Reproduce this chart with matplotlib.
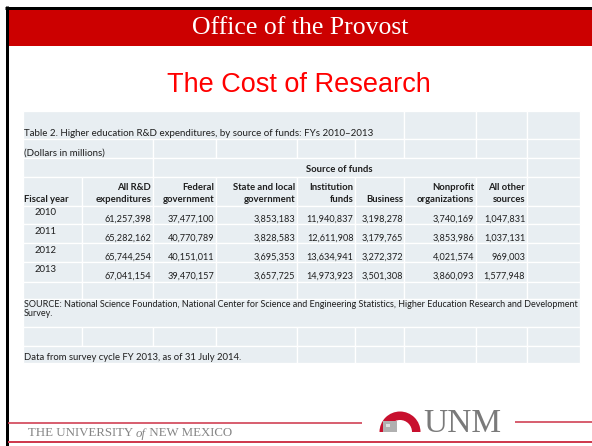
import matplotlib
matplotlib.use("Agg")
import matplotlib.pyplot as plt
from matplotlib.patches import Rectangle, Wedge

# ---------------- data ----------------
slide_header = "Office of the Provost"
slide_title = "The Cost of Research"
table_caption = "Table 2. Higher education R&D expenditures, by source of funds: FYs 2010\u20132013"
units_note = "(Dollars in millions)"
group_label = "Source of funds"
col_headers = [("", "Fiscal year"), ("All R&D", "expenditures"), ("Federal", "government"),
               ("State and local", "government"), ("Institution", "funds"), ("", "Business"),
               ("Nonprofit", "organizations"), ("All other", "sources")]
years = ["2010", "2011", "2012", "2013"]
all_rd = [61257398, 65282162, 65744254, 67041154]
federal = [37477100, 40770789, 40151011, 39470157]
state_local = [3853183, 3828583, 3695353, 3657725]
institution = [11940837, 12611908, 13634941, 14973923]
business = [3198278, 3179765, 3272372, 3501308]
nonprofit = [3740169, 3853986, 4021574, 3860093]
other_sources = [1047831, 1037131, 969003, 1577948]
source_line1 = ("SOURCE: National Science Foundation, National Center for Science and Engineering "
                "Statistics, Higher Education Research and Development")
source_line2 = "Survey."
data_note = "Data from survey cycle FY 2013, as of 31 July 2014."
footer_text_a = "THE UNIVERSITY "
footer_text_b = "of"
footer_text_c = " NEW MEXICO"
logo_text = "UNM"

# ---------------- layout ----------------
W, H = 592, 446
fig = plt.figure(figsize=(W / 100, H / 100), dpi=100)
ax = fig.add_axes([0, 0, 1, 1])
ax.set_xlim(0, W)
ax.set_ylim(H, 0)
ax.axis("off")

PX = 0.72  # points per pixel
RED = "#CC0000"
TABLE_BG = "#E8EEF2"
TXT = "#1E1E1E"
FONT = "Lato"

# frame + header band
ax.add_patch(Rectangle((8, 9), W - 8, 36.5, facecolor=RED, edgecolor="none"))
ax.plot([6.5, 6.5], [6, H], color="black", lw=3 * PX, solid_capstyle="butt")
ax.plot([5, W], [7.5, 7.5], color="black", lw=3 * PX, solid_capstyle="butt")
ax.text(300, 28, slide_header, color="white", fontsize=18.5, family="Liberation Serif",
        ha="center", va="center")
ax.text(299, 85, slide_title, color="#FF0000", fontsize=19.5, family="Liberation Sans",
        ha="center", va="center")

# table grid
xe = [22.7, 81.7, 152.7, 216, 297, 355, 404.3, 475.7, 526.7, 580]
ye = [111, 139.3, 158.3, 177.3, 205.7, 224.3, 243.3, 262.3, 281.7, 299.3, 326.7, 346, 363.3]
single = [(i, i + 1) for i in range(9)]
spans = [
    [(0, 6), (6, 7), (7, 8), (8, 9)],
    [(0, 2)] + single[2:],
    [(0, 2), (2, 8), (8, 9)],
    single, single, single, single, single, single,
    [(0, 9)],
    single,
    [(0, 4)] + single[4:],
]
for r, row in enumerate(spans):
    for a, b in row:
        ax.add_patch(Rectangle((xe[a], ye[r]), xe[b] - xe[a], ye[r + 1] - ye[r],
                               facecolor=TABLE_BG, edgecolor="white", lw=1.3 * PX))

fs = 6.6
ax.text(23.5, 133, table_caption, fontsize=7.0, family=FONT, color=TXT, va="center", ha="left")
ax.text(23.5, 153, units_note, fontsize=7.0, family=FONT, color=TXT, va="center", ha="left")
ax.text((xe[2] + xe[8]) / 2, 169, group_label, fontsize=6.8, family=FONT, color=TXT,
        va="center", ha="center", weight="bold")

for c, (l1, l2) in enumerate(col_headers):
    if c == 0:
        ax.text(23.5, 200, l2, fontsize=6.8, family=FONT, color=TXT, va="center", ha="left",
                weight="bold")
        continue
    xr = xe[c + 1] - 1.5
    if l1:
        ax.text(xr, 188, l1, fontsize=6.8, family=FONT, color=TXT, va="center", ha="right",
                weight="bold")
    ax.text(xr, 200, l2, fontsize=6.8, family=FONT, color=TXT, va="center", ha="right",
            weight="bold")

series = [all_rd, federal, state_local, institution, business, nonprofit, other_sources]
for i, yr in enumerate(years):
    top = ye[4 + i]
    ax.text(45.5, top + 7, yr, fontsize=6.8, family=FONT, color=TXT, va="center", ha="center")
    for c, s in enumerate(series):
        ax.text(xe[c + 2] - 1.5, top + 13.5, f"{s[i]:,}", fontsize=fs, family=FONT, color=TXT,
                va="center", ha="right")

ax.text(23.5, 304.5, source_line1, fontsize=6.5, family=FONT, color=TXT, va="center", ha="left")
ax.text(23.5, 313.5, source_line2, fontsize=6.5, family=FONT, color=TXT, va="center", ha="left")
ax.text(23.5, 358, data_note, fontsize=6.8, family=FONT, color=TXT, va="center", ha="left")

# footer
FRED = "#CF3A4E"
FGRAY = "#858585"
ax.plot([8, 362], [423, 423], color=FRED, lw=1.6 * PX, solid_capstyle="butt")
ax.plot([515, W], [421.7, 421.7], color=FRED, lw=1.6 * PX, solid_capstyle="butt")
ax.plot([8, W], [442, 442], color=FRED, lw=2 * PX, solid_capstyle="butt")
t1 = ax.text(28, 433.5, footer_text_a, fontsize=9.3, family="Liberation Serif", color=FGRAY,
             va="center", ha="left")
fig.canvas.draw()
renderer = fig.canvas.get_renderer()
inv = ax.transData.inverted()
x_after = inv.transform((t1.get_window_extent(renderer).x1, 0))[0]
t2 = ax.text(x_after, 433.5, footer_text_b, fontsize=9.3, family="Liberation Serif",
             color=FGRAY, va="center", ha="left", style="italic")
x_after2 = inv.transform((t2.get_window_extent(renderer).x1, 0))[0]
ax.text(x_after2, 433.5, footer_text_c, fontsize=9.3, family="Liberation Serif", color=FGRAY,
        va="center", ha="left")

# logo
ax.add_patch(Wedge((400, 432), 20.5, 180, 360, width=8.5, facecolor="#C8102E", edgecolor="none"))
ax.add_patch(Rectangle((383, 421), 14, 11, facecolor="#B0B0B0", edgecolor="none"))
ax.add_patch(Rectangle((386, 424), 4, 3, facecolor="#E0E0E0", edgecolor="none"))
ax.text(423, 432, logo_text, fontsize=24, family="Liberation Serif", color="#7A7A7A",
        va="baseline", ha="left")

fig.savefig("out.png", dpi=100)
